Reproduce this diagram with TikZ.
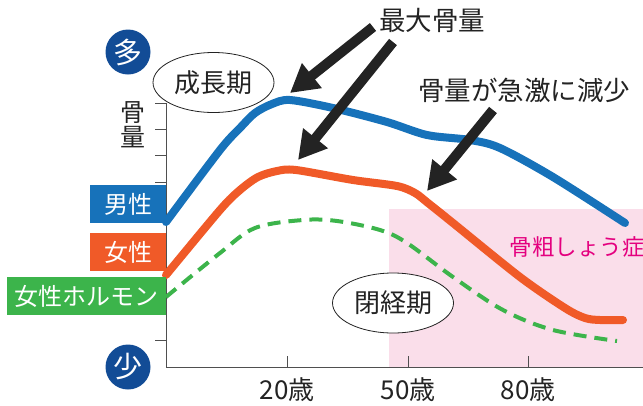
\documentclass[tikz,border=0pt]{standalone}
\usepackage{fontspec}
\setmainfont{Noto Sans CJK JP}
\usetikzlibrary{positioning,
        shapes,
        arrows.meta}
\definecolor{manblue}{RGB}{23,114,186}
\definecolor{womanred}{RGB}{240,90,40}
\definecolor{hormgreen}{RGB}{60,180,75}
\definecolor{navyball}{RGB}{18,76,150}
\definecolor{osteopink}{RGB}{250,222,234}
\definecolor{osteotext}{RGB}{228,0,127}
\definecolor{inkgray}{RGB}{35,35,35}

\begin{document}
\begin{tikzpicture}[x=1pt,y=-1pt,
        ball/.style={circle,fill=navyball,text=white,minimum size=45pt,inner sep=0pt,font=\fontsize{29}{30}\selectfont},
        sexbox/.style={fill=#1,text=white,minimum height=38pt,inner sep=0pt,font=\fontsize{24}{26}\selectfont},
        period/.style={ellipse,draw=inkgray,fill=white,line width=0.8pt,minimum width=121pt,minimum height=60pt,inner sep=0pt,text=inkgray,font=\fontsize{26}{28}\selectfont},
        callout/.style={text=inkgray,font=\fontsize{26.5}{28}\selectfont},
        agelab/.style={text=inkgray,font=\fontsize{26}{28}\selectfont},
        bigarrow/.style={line width=10pt,inkgray,-{Triangle[length=28pt,width=30pt]}},
        curve/.style={line width=8pt,line cap=round,line join=round}]
            \useasboundingbox (0,0) rectangle (643,405);

            % osteoporosis zone
            \fill [osteopink] (389,209) rectangle (643,367);
            \node [text=osteotext,font=\fontsize{22.5}{24}\selectfont] (osteo) at (577,247) {骨粗しょう症};

            % axes
            \draw [inkgray!80,line width=1pt] (166,103) -- (166,367) -- (643,367);
            \foreach \ty in {0,...,9}
                \draw [inkgray!80,line width=1pt] (155,{103+26.4*\ty}) -- (166,{103+26.4*\ty});
            \foreach \tx/\age in {287/20,408/50,528/80} {
                \draw [inkgray!80,line width=1pt] (\tx,356) -- (\tx,367);
                \node [agelab] (age\age) at (\tx,390) {\age 歳};
            }

            % curves
            \draw [curve,hormgreen,line width=4pt,line cap=butt,dash pattern=on 13pt off 8pt] plot [smooth,tension=0.55] coordinates
                {(166,297) (220,253) (255,228) (303,220) (337,221) (380,230) (407,243) (453,277) (503,310) (553,330) (617,341)};
            \draw [curve,manblue] plot [smooth,tension=0.5] coordinates
                {(166,222) (220,150) (240,128) (255,113) (272,104) (290,100) (333,108) (387,122) (427,135) (470,140) (500,148) (553,177) (625,223)};
            \draw [curve,womanred] plot [smooth,tension=0.5] coordinates
                {(166,275) (220,210) (240,190) (258,177) (277,171) (296,170) (353,180) (397,186) (415,193) (428,203) (453,223) (520,277) (565,308) (585,318) (600,320) (623,320)};

            % labels on the left
            \node [ball] (many) at (128,52) {多};
            \node [ball] (few) at (128,367) {少};
            \node [text=inkgray,align=center,font=\fontsize{25}{25}\selectfont] (boneamt) at (133,125) {骨\\量};
            \node [sexbox=manblue,minimum width=76pt] (male) at (128,204) {男性};
            \node [sexbox=womanred,minimum width=76pt] (female) at (128,252) {女性};
            \node [sexbox=hormgreen,minimum width=159pt] (hormone) at (86.5,296) {女性ホルモン};

            % periods
            \node [period] (growth) at (213.5,82.5) {成長期};
            \node [period] (meno) at (393,303) {閉経期};

            % callouts
            \node [callout] (peak) at (432,20) {最大骨量};
            \node [callout] (drop) at (524,90) {骨量が急激に減少};
            \coordinate (peakfromA) at (373,27);
            \coordinate (peaktipA) at (290,93);
            \coordinate (peakfromB) at (393,42);
            \coordinate (peaktipB) at (298,160);
            \coordinate (dropfrom) at (493,110);
            \coordinate (droptip) at (427,191);
            \draw [bigarrow] (peakfromA) -- (peaktipA);
            \draw [bigarrow] (peakfromB) -- (peaktipB);
            \draw [bigarrow] (dropfrom) -- (droptip);
        \end{tikzpicture}
\end{document}
